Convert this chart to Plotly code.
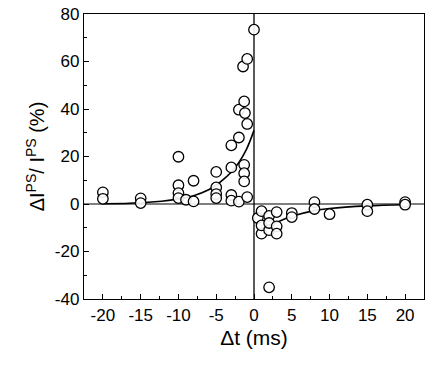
import plotly.graph_objects as go

# Measured points (Δt in ms, ΔI/I in %)
dt_pts = [-20, -20, -15, -15,
          -10, -10, -10, -10, -9, -8, -8,
          -5, -5, -5, -5,
          -3, -3, -3, -3, -2, -2, -2,
          -1.3, -1.45, -0.9, -1.2, -0.9, -1.3, -1.3, -1.3, -0.9, 0,
          0.5, 1, 1, 1, 2, 2, 2, 2, 3, 3, 3,
          5, 5, 8, 8, 10, 15, 15, 20, 20]
dI_pts = [4.9, 2.2, 2.4, 0.4,
          19.9, 7.9, 4.6, 2.5, 1.8, 9.8, 1.1,
          13.5, 7.0, 4.2, 2.5,
          24.7, 15.4, 3.8, 1.4, 1.0, 28.0, 39.7,
          43.2, 57.9, 61.1, 38.3, 33.7, 16.5, 13.0, 9.5, 2.9, 73.4,
          -5.9, -3.0, -12.5, -9.0, -5.0, -11.0, -8.0, -35.1, -3.4, -9.4, -12.5,
          -3.8, -5.5, 0.8, -2.1, -4.3, -0.3, -3.0, 0.8, -0.3]

# Fit curves
fit_left_x = [-20, -15, -10, -8, -6, -5, -4, -3, -2, -1, 0]
fit_left_y = [0.1, 0.5, 2.1, 3.5, 6.0, 8.0, 10.5, 13.5, 17.5, 23.0, 31.0]
fit_right_x = [0.5, 1, 2, 3, 5, 8, 10, 15, 20]
fit_right_y = [-11.1, -10.4, -9.0, -7.7, -5.2, -2.8, -1.9, -0.8, -0.3]

x_ticks = [-20, -15, -10, -5, 0, 5, 10, 15, 20]
y_ticks = [-40, -20, 0, 20, 40, 60, 80]

fig = go.Figure()

fig.add_trace(go.Scatter(x=fit_left_x, y=fit_left_y, mode="lines",
                         line=dict(color="black", width=1.6, shape="spline"),
                         hoverinfo="skip", showlegend=False))
fig.add_trace(go.Scatter(x=fit_right_x, y=fit_right_y, mode="lines",
                         line=dict(color="black", width=1.6, shape="spline"),
                         hoverinfo="skip", showlegend=False))
fig.add_trace(go.Scatter(x=dt_pts, y=dI_pts, mode="markers",
                         marker=dict(symbol="circle", size=10.5, color="rgba(255,255,255,0.9)",
                                     line=dict(color="black", width=1.3)),
                         showlegend=False))

# zero lines
fig.add_hline(y=0, line=dict(color="#555555", width=1.3), layer="below")
fig.add_vline(x=0, line=dict(color="black", width=1.3), layer="below")

font_family = "Liberation Sans, Arial, sans-serif"

fig.update_layout(
    width=436, height=365,
    margin=dict(l=84, r=12, t=14, b=66),
    plot_bgcolor="white", paper_bgcolor="white",
    font=dict(family=font_family, color="black", size=17),
    xaxis=dict(range=[-22.5, 22.5], tickvals=x_ticks, ticktext=[str(v) for v in x_ticks],
               ticks="inside", ticklen=5, tickwidth=1, tickcolor="black",
               minor=dict(ticks="inside", ticklen=3, tickwidth=1, tickcolor="black", dtick=2.5, tick0=0),
               showline=True, linecolor="black", linewidth=1.3, mirror=True,
               showgrid=False, zeroline=False, automargin=False,
               title=dict(text="Δt (ms)", font=dict(size=21), standoff=6),
               tickfont=dict(size=17)),
    yaxis=dict(range=[-40, 80], tickvals=y_ticks, ticktext=[str(v) for v in y_ticks],
               ticks="inside", ticklen=5, tickwidth=1, tickcolor="black",
               minor=dict(ticks="inside", ticklen=3, tickwidth=1, tickcolor="black", dtick=10, tick0=0),
               showline=True, linecolor="black", linewidth=1.3, mirror=True,
               showgrid=False, zeroline=False, automargin=False,
               title=dict(text="ΔI<sup>PS</sup>/ I<sup>PS</sup> (%)", font=dict(size=20), standoff=4),
               tickfont=dict(size=17)),
)

fig.write_html("out.html",
               config={"displayModeBar": False},
               post_script="document.body.style.margin='0';document.body.style.padding='0';")
